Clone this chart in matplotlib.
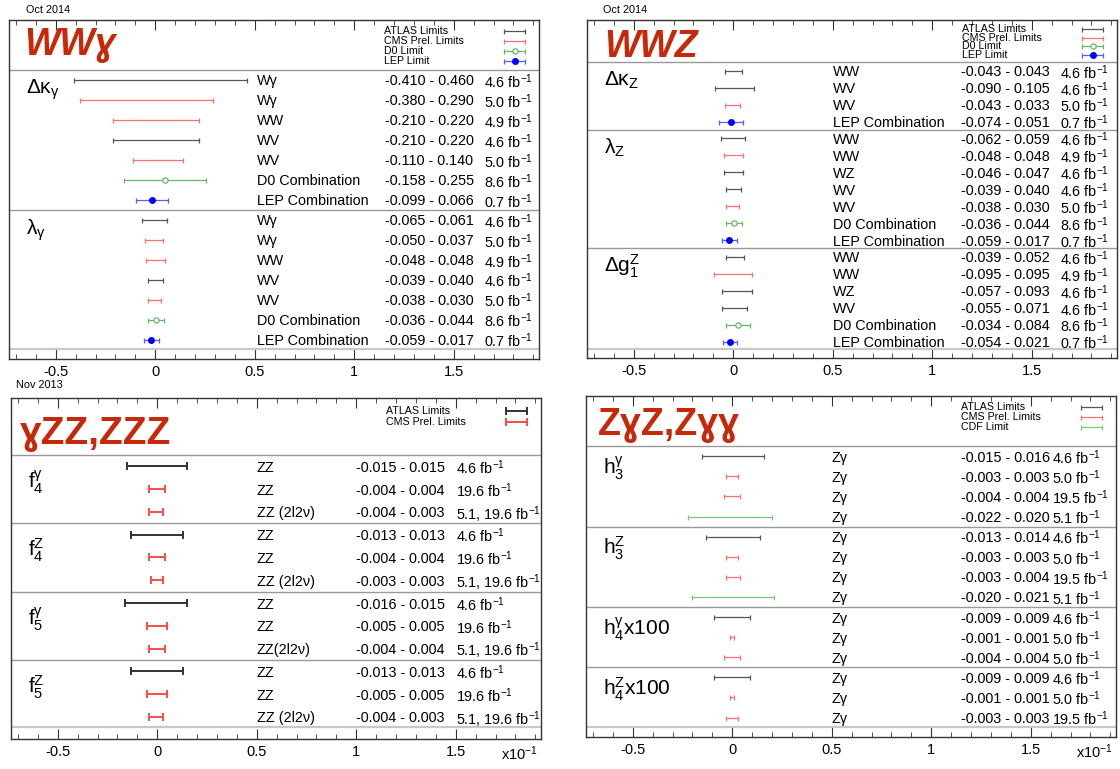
import matplotlib.pyplot as plt
import matplotlib.transforms as mtransforms
from matplotlib.ticker import MultipleLocator

plt.rcParams['font.family'] = ['Liberation Sans', 'DejaVu Sans']
plt.rcParams['mathtext.fontset'] = 'custom'
plt.rcParams['mathtext.rm'] = 'Liberation Sans'
plt.rcParams['mathtext.it'] = 'Liberation Sans:italic'
plt.rcParams['mathtext.bf'] = 'Liberation Sans:bold'
plt.rcParams['mathtext.sf'] = 'Liberation Sans'
plt.rcParams['axes.unicode_minus'] = False

# ---- WWγ (Oct 2014) ----
wwg_groups = [r'$\Delta\mathrm{\kappa}_{\mathrm{\gamma}}$', r'$\mathrm{\lambda}_{\mathrm{\gamma}}$']
wwg_sizes = [7, 7]
wwg_proc = ['Wγ', 'Wγ', 'WW', 'WV', 'WV', 'D0 Combination', 'LEP Combination',
            'Wγ', 'Wγ', 'WW', 'WV', 'WV', 'D0 Combination', 'LEP Combination']
wwg_lo = [-0.410, -0.380, -0.210, -0.210, -0.110, -0.158, -0.099,
          -0.065, -0.050, -0.048, -0.039, -0.038, -0.036, -0.059]
wwg_hi = [0.460, 0.290, 0.220, 0.220, 0.140, 0.255, 0.066,
          0.061, 0.037, 0.048, 0.040, 0.030, 0.044, 0.017]
wwg_lumi = ['4.6', '5.0', '4.9', '4.6', '5.0', '8.6', '0.7',
            '4.6', '5.0', '4.9', '4.6', '5.0', '8.6', '0.7']
wwg_exp = ['ATLAS', 'CMS', 'CMS', 'ATLAS', 'CMS', 'D0', 'LEP',
           'ATLAS', 'CMS', 'CMS', 'ATLAS', 'CMS', 'D0', 'LEP']
wwg_legend = ['ATLAS', 'CMS', 'D0', 'LEP']

# ---- WWZ (Oct 2014) ----
wwz_groups = [r'$\Delta\mathrm{\kappa}_{\mathrm{Z}}$', r'$\mathrm{\lambda}_{\mathrm{Z}}$',
              r'$\Delta\mathrm{g}_{\mathrm{1}}^{\mathrm{Z}}$']
wwz_sizes = [4, 7, 6]
wwz_proc = ['WW', 'WV', 'WV', 'LEP Combination',
            'WW', 'WW', 'WZ', 'WV', 'WV', 'D0 Combination', 'LEP Combination',
            'WW', 'WW', 'WZ', 'WV', 'D0 Combination', 'LEP Combination']
wwz_lo = [-0.043, -0.090, -0.043, -0.074,
          -0.062, -0.048, -0.046, -0.039, -0.038, -0.036, -0.059,
          -0.039, -0.095, -0.057, -0.055, -0.034, -0.054]
wwz_hi = [0.043, 0.105, 0.033, 0.051,
          0.059, 0.048, 0.047, 0.040, 0.030, 0.044, 0.017,
          0.052, 0.095, 0.093, 0.071, 0.084, 0.021]
wwz_lumi = ['4.6', '4.6', '5.0', '0.7',
            '4.6', '4.9', '4.6', '4.6', '5.0', '8.6', '0.7',
            '4.6', '4.9', '4.6', '4.6', '8.6', '0.7']
wwz_exp = ['ATLAS', 'ATLAS', 'CMS', 'LEP',
           'ATLAS', 'CMS', 'ATLAS', 'ATLAS', 'CMS', 'D0', 'LEP',
           'ATLAS', 'CMS', 'ATLAS', 'ATLAS', 'D0', 'LEP']
wwz_legend = ['ATLAS', 'CMS', 'D0', 'LEP']

# ---- γZZ, ZZZ (Nov 2013), values x10 on the axis ----
zzz_groups = [r'$\mathrm{f}_{\mathrm{4}}^{\mathrm{\gamma}}$', r'$\mathrm{f}_{\mathrm{4}}^{\mathrm{Z}}$',
              r'$\mathrm{f}_{\mathrm{5}}^{\mathrm{\gamma}}$', r'$\mathrm{f}_{\mathrm{5}}^{\mathrm{Z}}$']
zzz_sizes = [3, 3, 3, 3]
zzz_proc = ['ZZ', 'ZZ', 'ZZ (2l2ν)', 'ZZ', 'ZZ', 'ZZ (2l2ν)',
            'ZZ', 'ZZ', 'ZZ(2l2ν)', 'ZZ', 'ZZ', 'ZZ (2l2ν)']
zzz_lo = [-0.015, -0.004, -0.004, -0.013, -0.004, -0.003,
          -0.016, -0.005, -0.004, -0.013, -0.005, -0.004]
zzz_hi = [0.015, 0.004, 0.003, 0.013, 0.004, 0.003,
          0.015, 0.005, 0.004, 0.013, 0.005, 0.003]
zzz_lumi = ['4.6', '19.6', '5.1, 19.6', '4.6', '19.6', '5.1, 19.6',
            '4.6', '19.6', '5.1, 19.6', '4.6', '19.6', '5.1, 19.6']
zzz_exp = ['ATLAS', 'CMS', 'CMS'] * 4
zzz_legend = ['ATLAS', 'CMS']

# ---- ZγZ, Zγγ, values x10 on the axis ----
zgz_groups = [r'$\mathrm{h}_{\mathrm{3}}^{\mathrm{\gamma}}$', r'$\mathrm{h}_{\mathrm{3}}^{\mathrm{Z}}$',
              r'$\mathrm{h}_{\mathrm{4}}^{\mathrm{\gamma}}\mathrm{x100}$',
              r'$\mathrm{h}_{\mathrm{4}}^{\mathrm{Z}}\mathrm{x100}$']
zgz_sizes = [4, 4, 3, 3]
zgz_proc = ['Zγ'] * 14
zgz_lo = [-0.015, -0.003, -0.004, -0.022, -0.013, -0.003, -0.003, -0.020,
          -0.009, -0.001, -0.004, -0.009, -0.001, -0.003]
zgz_hi = [0.016, 0.003, 0.004, 0.020, 0.014, 0.003, 0.004, 0.021,
          0.009, 0.001, 0.004, 0.009, 0.001, 0.003]
zgz_lumi = ['4.6', '5.0', '19.5', '5.1', '4.6', '5.0', '19.5', '5.1',
            '4.6', '5.0', '5.0', '4.6', '5.0', '19.5']
zgz_exp = ['ATLAS', 'CMS', 'CMS', 'CDF', 'ATLAS', 'CMS', 'CMS', 'CDF',
           'ATLAS', 'CMS', 'CMS', 'ATLAS', 'CMS', 'CMS']
zgz_legend = ['ATLAS', 'CMS', 'CDF']

legend_names = {'ATLAS': 'ATLAS Limits', 'CMS': 'CMS Prel. Limits',
                'D0': 'D0 Limit', 'LEP': 'LEP Limit', 'CDF': 'CDF Limit'}

RED = '#c8280a'
XMIN, XMAX = -0.735, 1.93
W, H = 1120, 769
TITLE_FONT = ['Liberation Sans', 'DejaVu Sans']


def style(exp, heavy):
    lw = 1.4 if heavy else 0.9
    cap = 2.6 if heavy else 1.8
    if exp == 'ATLAS':
        return dict(color='#333333' if heavy else '#555555', fmt='none', lw=lw, capsize=cap)
    if exp == 'CMS':
        return dict(color='#ff4a4a' if heavy else '#ff7070', fmt='none', lw=lw, capsize=cap)
    if exp == 'D0':
        return dict(color='#66b866', fmt='o', mfc='white', mec='#66b866', ms=3.8,
                    mew=0.9, lw=lw, capsize=cap)
    if exp == 'LEP':
        return dict(color='#5a5aff', fmt='o', mfc='#0000ff', mec='#0000ff', ms=4,
                    lw=lw, capsize=cap)
    return dict(color='#77c777', fmt='none', lw=lw, capsize=cap)


def make_axes(left, top, bottom):
    width = (XMAX - XMIN) * 199
    return fig.add_axes([left / W, 1 - bottom / H, width / W, (bottom - top) / H])


def draw_panel(ax, title, tprops, tpos, groups, sizes, proc, lo, hi, lumi, exp,
               legend, cols, goff, scale=1.0, heavy=False, x10=False):
    n = len(proc)
    ax.set_xlim(XMIN, XMAX)
    ax.set_ylim(n - 1 + 0.97, -3.0)
    ax.set_yticks([])
    ax.xaxis.set_major_locator(MultipleLocator(0.5))
    ax.xaxis.set_minor_locator(MultipleLocator(0.1))
    ax.xaxis.set_major_formatter(plt.FuncFormatter(lambda v, p: ('%g' % round(v, 2))))
    ax.tick_params(axis='x', which='both', direction='in', top=True, bottom=True,
                   labelsize=10.5, pad=4, color='#333333')
    ax.tick_params(axis='x', which='major', length=7)
    ax.tick_params(axis='x', which='minor', length=3.5)
    for s in ax.spines.values():
        s.set_color('#333333')
        s.set_linewidth(1.0)

    ax.text(tpos[0], tpos[1], title, color=RED, va='baseline', ha='left',
            family=TITLE_FONT, **tprops)

    # header / group separators
    ax.axhline(-0.5, color='#999999', lw=1.0)
    start = 0
    for g, sz in zip(groups, sizes):
        if start > 0:
            ax.axhline(start - 0.5, color='#999999', lw=1.0)
        ax.text(XMIN + 0.085, start + goff, g, fontsize=15, va='center', ha='left')
        start += sz
    ax.axhline(n - 1 + 0.45, color='#c8c8c8', lw=1.6)

    for i in range(n):
        mid = (lo[i] + hi[i]) / 2 * scale
        half = (hi[i] - lo[i]) / 2 * scale
        st = style(exp[i], heavy)
        ax.errorbar(mid, i, xerr=half, capthick=st['lw'], elinewidth=st['lw'],
                    **{k: v for k, v in st.items() if k != 'lw'})
        ax.text(cols[0], i, proc[i], fontsize=10.4, va='center_baseline', ha='left')
        ax.text(cols[1], i, '%.3f - %.3f' % (lo[i], hi[i]), fontsize=10.4,
                va='center_baseline', ha='left')
        ax.text(cols[2], i, lumi[i] + r' fb$^{\mathrm{-1}}$', fontsize=10.4,
                va='center_baseline', ha='left')

    # legend
    for k, e in enumerate(legend):
        y = -2.45 + 0.5 * k
        ax.text(1.15, y, legend_names[e], fontsize=7.7, va='center', ha='left')
        st = style(e, heavy)
        ax.errorbar(1.807, y, xerr=0.053, capthick=st['lw'], elinewidth=st['lw'],
                    **{kk: v for kk, v in st.items() if kk != 'lw'})

    if x10:
        tr = mtransforms.blended_transform_factory(ax.transData, ax.transAxes)
        ax.text(1.915, -0.04, r'x10$^{\mathrm{-1}}$', transform=tr, fontsize=10.5,
                ha='right', va='center_baseline')


fig = plt.figure(figsize=(W / 100, H / 100), dpi=100)

ax1 = make_axes(9, 20, 359)
draw_panel(ax1, 'WWɣ', dict(fontsize=27, fontweight='bold', fontstyle='italic'), (-0.66, -1.25),
           wwg_groups, wwg_sizes, wwg_proc, wwg_lo, wwg_hi, wwg_lumi, wwg_exp,
           wwg_legend, (0.51, 1.156, 1.653), 0.5)

ax2 = make_axes(587, 20, 358)
draw_panel(ax2, 'WWZ', dict(fontsize=27, fontweight='bold', fontstyle='italic'), (-0.65, -0.83),
           wwz_groups, wwz_sizes, wwz_proc, wwz_lo, wwz_hi, wwz_lumi, wwz_exp,
           wwz_legend, (0.50, 1.143, 1.643), 0.55)

ax3 = make_axes(11, 398, 739)
draw_panel(ax3, 'ɣZZ,ZZZ', dict(fontsize=28, fontweight='bold'), (-0.69, -1.0),
           zzz_groups, zzz_sizes, zzz_proc, zzz_lo, zzz_hi, zzz_lumi, zzz_exp,
           zzz_legend, (0.50, 1.0, 1.5), 0.7, scale=10, heavy=True, x10=True)

ax4 = make_axes(586, 396, 737)
draw_panel(ax4, 'ZɣZ,Zɣɣ', dict(fontsize=27, fontweight='bold'), (-0.675, -1.05),
           zgz_groups, zgz_sizes, zgz_proc, zgz_lo, zgz_hi, zgz_lumi, zgz_exp,
           zgz_legend, (0.50, 1.149, 1.607), 0.6, scale=10, x10=True)

fig.text(26 / W, 1 - 10 / H, 'Oct 2014', fontsize=7.8, va='center', ha='left')
fig.text(603 / W, 1 - 10 / H, 'Oct 2014', fontsize=7.8, va='center', ha='left')
fig.text(16 / W, 1 - 385 / H, 'Nov 2013', fontsize=7.8, va='center', ha='left')

fig.savefig('out.png', dpi=100)
